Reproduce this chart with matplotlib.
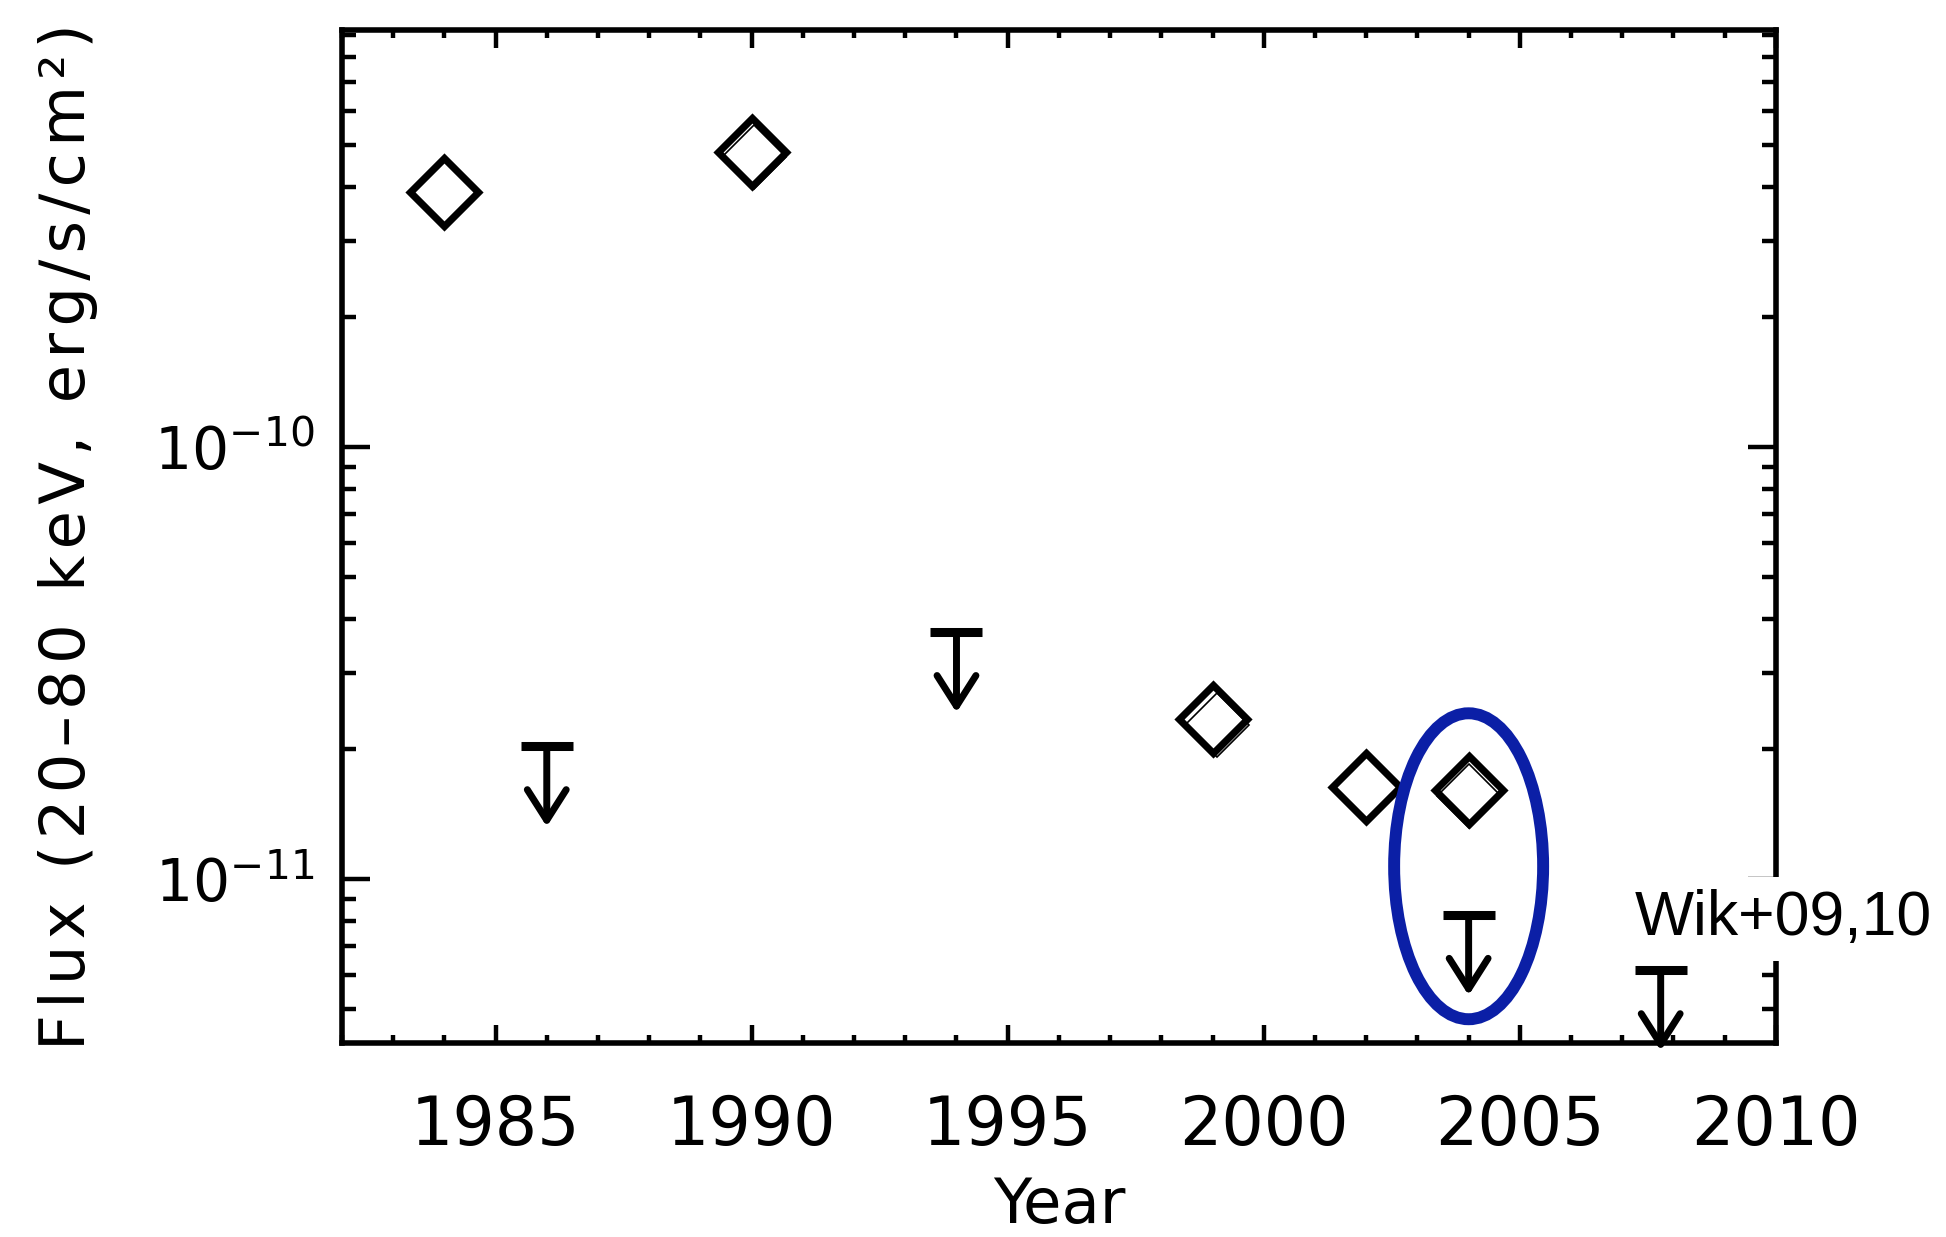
import matplotlib
matplotlib.use("Agg")
import matplotlib.pyplot as plt
from matplotlib.patches import Ellipse
from matplotlib.ticker import LogLocator, MultipleLocator, NullFormatter

# hard X-ray flux history, detections and upper limits
det_year = [1984, 1990, 1999, 2002, 2004]
det_flux = [3.89e-10, 4.82e-10, 2.34e-11, 1.63e-11, 1.61e-11]

# repeated measurements drawn as thin outlines under the main points
rep_year = [1990.04, 1999.08, 2004.0]
rep_flux = [4.69e-10, 2.27e-11, 1.56e-11]

ul_year = [1986, 1994, 2004, 2007.75]
ul_flux = [2.03e-11, 3.73e-11, 8.26e-12, 6.15e-12]

ring_year = 2004
ring_flux = 1.07e-11

note_text = "Wik+09,10"
note_year = 2007.25
note_flux = 7.4e-12

y_title = "Flux (20\u201380 keV, erg/s/cm\u00b2)"

fig = plt.figure(figsize=(19.46, 12.37), dpi=100)
ax = fig.add_axes([0.1757, 0.1568, 0.7369, 0.8189])
ax.set_yscale("log")
ax.set_xlim(1982, 2010)
ax.set_ylim(4.17e-12, 9.23e-10)

ax.plot(rep_year, rep_flux, ls="none", marker="D", ms=33, mfc="none",
        mec="black", mew=1.2, zorder=4)
ax.plot(det_year, det_flux, ls="none", marker="D", ms=35, mfc="none",
        mec="black", mew=5.2, zorder=5)

# upper limits: bar at the limit, arrow pointing down
ax.plot(ul_year, ul_flux, ls="none", marker="_", ms=37, mew=6.5,
        color="black", zorder=5, clip_on=False)
for x, y in zip(ul_year, ul_flux):
    ax.annotate("", xy=(x, y), xytext=(0, -58), textcoords="offset points",
                arrowprops=dict(arrowstyle="<-,head_length=1.1,head_width=0.7",
                                lw=5, color="black", shrinkA=0, shrinkB=0,
                                mutation_scale=20),
                zorder=5, annotation_clip=False)

ax.text(note_year, note_flux, note_text, fontsize=45, family="Liberation Sans",
        ha="left", va="baseline", zorder=3, clip_on=False,
        bbox=dict(boxstyle="square,pad=0.2", fc="white", ec="none"))

ax.xaxis.set_major_locator(MultipleLocator(5))
ax.xaxis.set_minor_locator(MultipleLocator(1))
ax.yaxis.set_major_locator(LogLocator(base=10))
ax.yaxis.set_minor_locator(LogLocator(base=10, subs=range(2, 10)))
ax.yaxis.set_minor_formatter(NullFormatter())

for s in ax.spines.values():
    s.set_linewidth(4)
ax.tick_params(axis="both", which="both", direction="in", top=True, right=True,
               width=3.2, colors="black")
ax.tick_params(axis="x", which="major", length=13, pad=36, labelsize=48)
ax.tick_params(axis="x", which="minor", length=6)
ax.tick_params(axis="y", which="major", length=20, pad=20, labelsize=42)
ax.tick_params(axis="y", which="minor", length=10)

ax.set_xlabel("Year", fontsize=45, labelpad=12)
# widen the letter spacing of the axis title with hair spaces
ax.set_ylabel("\u200a".join(y_title), fontsize=45, labelpad=40)

# highlight the 2004 pair
fig.canvas.draw()
to_axes = ax.transData + ax.transAxes.inverted()
cx, cy = to_axes.transform((ring_year, ring_flux))
ax.add_patch(Ellipse((cx, cy), 0.1039, 0.302, transform=ax.transAxes,
                     fill=False, ec="#0b1fa6", lw=8.6, zorder=6, clip_on=False))

fig.savefig("out.png", dpi=100)
